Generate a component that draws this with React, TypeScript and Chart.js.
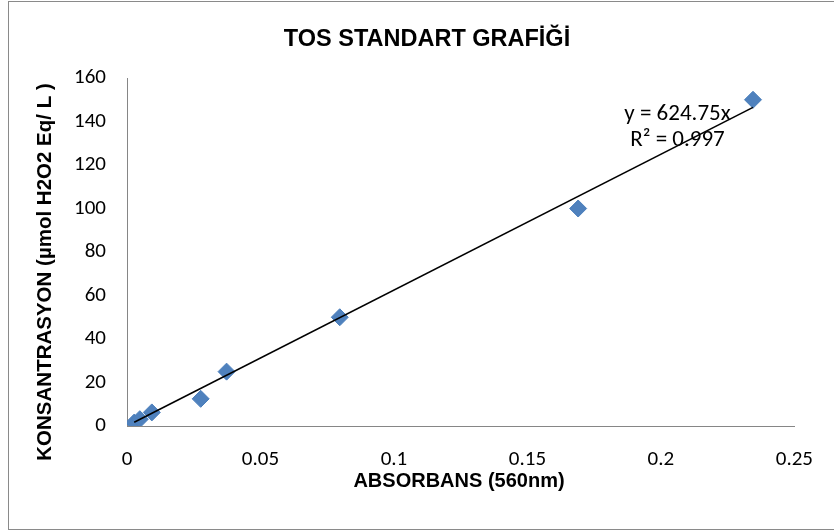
import React, { useEffect, useRef } from "react";
import { Chart, registerables } from "chart.js";

Chart.register(...registerables);

const chartTitle = "TOS STANDART GRAFİĞİ";
const xAxisTitle = "ABSORBANS (560nm)";
const yAxisTitle = "KONSANTRASYON (µmol H2O2 Eq/ L )";
const absorbance = [0.0027, 0.0048, 0.0093, 0.0276, 0.0373, 0.0797, 0.169, 0.2345];
const concentration = [1.5625, 3.125, 6.25, 12.5, 25, 50, 100, 150];
const trendSlope = 624.75;
const equationLines = ["y = 624.75x", "R² = 0.997"];
const xTicks = [0, 0.05, 0.1, 0.15, 0.2, 0.25];
const yTicks = [0, 20, 40, 60, 80, 100, 120, 140, 160];

const BODY_FONT = "Carlito, Lato, 'Noto Sans', sans-serif";

const textPlugin = {
  id: "textPlugin",
  afterDraw(chart: any) {
    const ctx = chart.ctx;
    ctx.save();
    ctx.strokeStyle = "#8a8a8a";
    ctx.lineWidth = 1;
    ctx.strokeRect(8.5, 1.5, 840, 528);
    ctx.fillStyle = "#000";
    ctx.font = "bold 23.5px 'Liberation Sans', Arial, sans-serif";
    ctx.textAlign = "center";
    ctx.textBaseline = "alphabetic";
    ctx.fillText(chartTitle, 427, 46);
    ctx.font = "bold 20px 'Liberation Sans', Arial, sans-serif";
    ctx.fillText(xAxisTitle, 459, 487);
    ctx.save();
    ctx.translate(51, 272);
    ctx.rotate(-Math.PI / 2);
    ctx.font = "bold 20.5px 'Liberation Sans', Arial, sans-serif";
    ctx.fillText(yAxisTitle, 0, 0);
    ctx.restore();
    ctx.font = "23px " + BODY_FONT;
    ctx.fillText(equationLines[0], 677.5, 120);
    ctx.fillText(equationLines[1], 677.5, 146);
    ctx.restore();
  },
};

export default function App() {
  const ref = useRef<HTMLCanvasElement | null>(null);
  useEffect(() => {
    if (!ref.current) return;
    const points = absorbance.map((x, i) => ({ x, y: concentration[i] }));
    const xMin = Math.min(...absorbance);
    const xMax = Math.max(...absorbance);
    const trend = [
      { x: xMin, y: trendSlope * xMin },
      { x: xMax, y: trendSlope * xMax },
    ];
    const chart = new Chart(ref.current, {
      type: "scatter",
      data: {
        datasets: [
          {
            type: "line",
            data: trend,
            borderColor: "#000",
            borderWidth: 1.6,
            pointRadius: 0,
            showLine: true,
            fill: false,
          } as any,
          {
            data: points,
            pointStyle: "rectRot",
            pointRadius: 8.5,
            pointHoverRadius: 8.5,
            backgroundColor: "#4f81bd",
            borderColor: "#4a7ebb",
            borderWidth: 1,
          },
        ],
      },
      options: {
        responsive: false,
        animation: false,
        events: [],
        layout: { padding: { top: 78, right: 37, left: 0, bottom: 0 } },
        plugins: {
          legend: { display: false },
          title: { display: false },
          tooltip: { enabled: false },
        },
        scales: {
          x: {
            type: "linear",
            min: 0,
            max: 0.25,
            afterFit: (s: any) => {
              s.height = 106;
            },
            afterBuildTicks: (s: any) => {
              s.ticks = xTicks.map((v) => ({ value: v }));
            },
            grid: { display: false, drawTicks: false },
            border: { display: true, color: "#868686", width: 1 },
            ticks: {
              padding: 21,
              color: "#000",
              font: { family: BODY_FONT, size: 21 },
              maxRotation: 0,
              callback: (v: any) => String(Number(Number(v).toFixed(2))),
            },
          },
          y: {
            type: "linear",
            min: 0,
            max: 160,
            afterFit: (s: any) => {
              s.width = 127;
            },
            afterBuildTicks: (s: any) => {
              s.ticks = yTicks.map((v) => ({ value: v }));
            },
            grid: { display: false, drawTicks: false },
            border: { display: true, color: "#868686", width: 1 },
            ticks: {
              padding: 21,
              color: "#000",
              font: { family: BODY_FONT, size: 21 },
              callback: (v: any) => String(v),
            },
          },
        },
      },
      plugins: [textPlugin],
    });
    return () => chart.destroy();
  }, []);
  return (
    <div style={{ position: "fixed", left: 0, top: 0, width: 834, height: 532, background: "#fff" }}>
      <canvas ref={ref} width={834} height={532} style={{ display: "block" }} />
    </div>
  );
}
